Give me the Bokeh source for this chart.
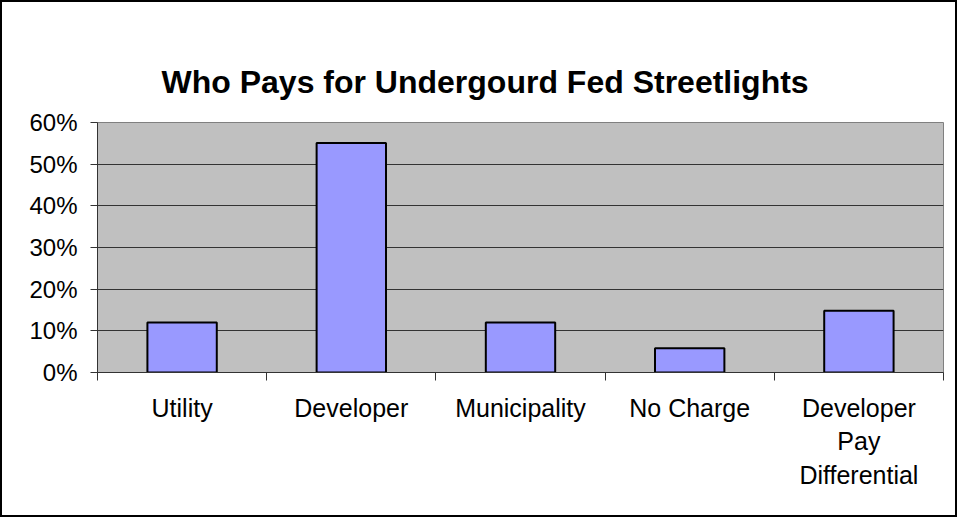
from bokeh.plotting import figure
from bokeh.models import (Range1d, FixedTicker, NumeralTickFormatter, Title,
                          ColumnDataSource, LinearAxis)
from bokeh.embed import file_html
from bokeh.resources import INLINE

title_text = "Who Pays for Undergourd Fed Streetlights"
categories = ["Utility", "Developer", "Municipality", "No Charge", "Developer\nPay\nDifferential"]
shares = [0.12, 0.551, 0.12, 0.058, 0.148]
y_ticks = [0.0, 0.1, 0.2, 0.3, 0.4, 0.5, 0.6]

n = len(categories)
centers = [i + 0.5 for i in range(n)]
bounds = [float(i) for i in range(n + 1)]

FONT = "Liberation Sans"

p = figure(width=957, height=517, output_backend="svg", toolbar_location=None,
           x_range=Range1d(0, n), y_range=Range1d(0, y_ticks[-1]),
           min_border_left=95, min_border_right=16, min_border_top=120, min_border_bottom=147)
p.styles = {"border": "2px solid black"}
p.background_fill_color = "#C0C0C0"
p.border_fill_color = "white"
p.outline_line_color = "#808080"
p.outline_line_width = 1

src = ColumnDataSource(dict(x=centers, top=shares, name=categories))
p.vbar(x="x", top="top", bottom=0, width=0.41, source=src,
       fill_color="#9999FF", line_color="black", line_width=2)

# x axis: labels at centers, ticks at boundaries
xa = p.xaxis[0]
xa.ticker = FixedTicker(ticks=centers, minor_ticks=bounds)
xa.major_label_overrides = {c: name for c, name in zip(centers, categories)}
xa.major_tick_out = 0
xa.major_tick_in = 0
xa.minor_tick_out = 8
xa.minor_tick_in = 0
xa.minor_tick_line_color = "#333333"
xa.axis_line_color = "#333333"
xa.major_label_text_font = FONT
xa.major_label_text_font_size = "25px"
xa.major_label_text_color = "black"
xa.major_label_text_line_height = 1.2
xa.major_label_standoff = 13

ya = p.yaxis[0]
ya.ticker = FixedTicker(ticks=y_ticks, minor_ticks=[])
ya.formatter = NumeralTickFormatter(format="0%")
ya.major_tick_out = 7
ya.major_tick_in = 0
ya.major_tick_line_color = "#333333"
ya.axis_line_color = "#333333"
ya.major_label_text_font = FONT
ya.major_label_text_font_size = "24px"
ya.major_label_text_color = "black"
ya.major_label_standoff = 13

p.xgrid.visible = False
p.ygrid.ticker = FixedTicker(ticks=y_ticks)
p.ygrid.grid_line_color = "#333333"
p.ygrid.grid_line_width = 1

p.add_layout(Title(text=title_text, text_font=FONT, text_font_size="32px",
                   text_font_style="bold", align="left", offset=64, standoff=42,
                   vertical_align="top", text_color="black"), "above")

# invisible spacer axis between the plot area and the title
spacer = LinearAxis(ticker=FixedTicker(ticks=[]), major_tick_out=40, major_tick_in=0,
                    major_label_standoff=0,
                    axis_line_color=None, major_tick_line_color=None,
                    minor_tick_line_color=None, major_label_text_font_size="0px")
p.add_layout(spacer, "above")

open("out.html", "w").write(file_html(p, INLINE))
